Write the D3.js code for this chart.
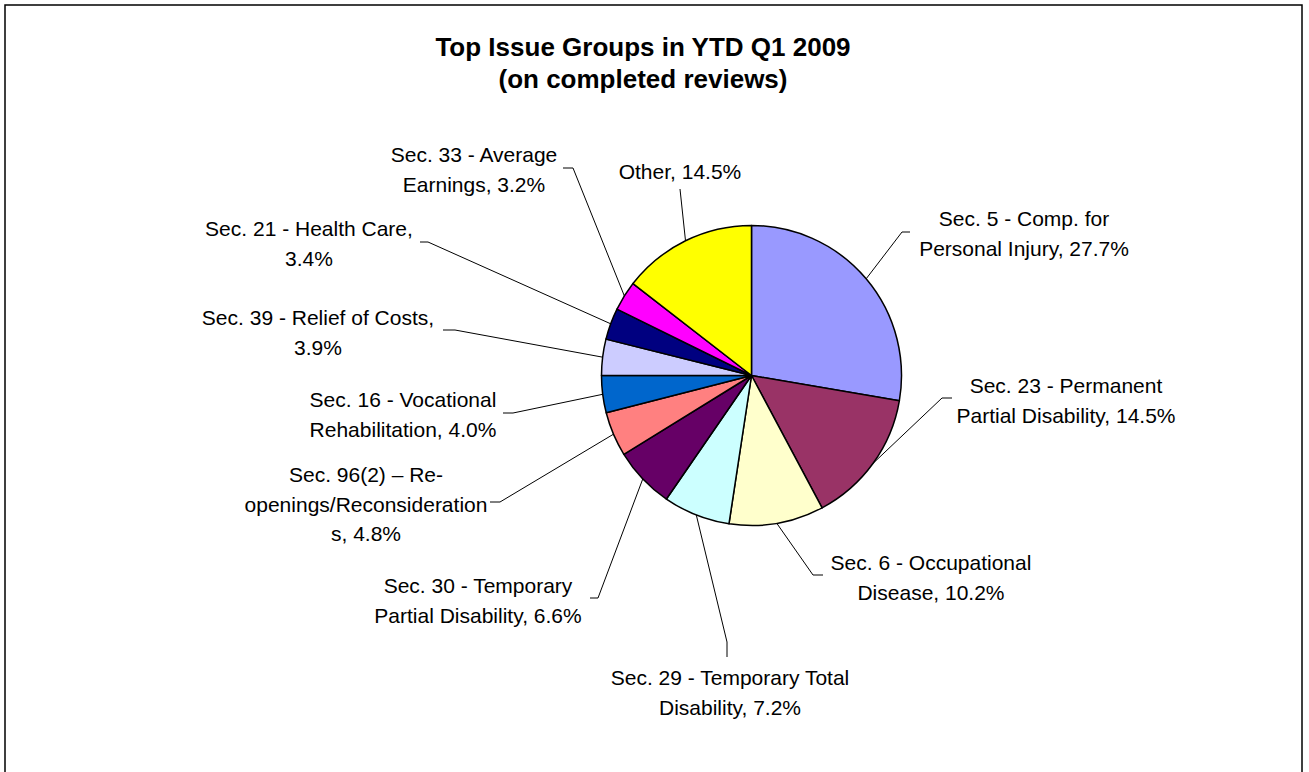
<!DOCTYPE html>
<html>
<head>
<meta charset="utf-8">
<script src="https://cdn.jsdelivr.net/npm/d3@7"></script>
<style>
  body { margin: 0; background: #fff; }
  svg { display: block; }
  text { font-family: "Liberation Sans", Arial, sans-serif; fill: #000; }
</style>
</head>
<body>
<svg id="chart"></svg>
<script>
// data, clockwise from 12 o'clock
var categories = [
  'Sec. 5 - Comp. for Personal Injury',
  'Sec. 23 - Permanent Partial Disability',
  'Sec. 6 - Occupational Disease',
  'Sec. 29 - Temporary Total Disability',
  'Sec. 30 - Temporary Partial Disability',
  'Sec. 96(2) \u2013 Re-openings/Reconsiderations',
  'Sec. 16 - Vocational Rehabilitation',
  'Sec. 39 - Relief of Costs',
  'Sec. 21 - Health Care',
  'Sec. 33 - Average Earnings',
  'Other'
];
var values = [27.7, 14.5, 10.2, 7.2, 6.6, 4.8, 4.0, 3.9, 3.4, 3.2, 14.5];

// label text as wrapped in the original
var labelLines = [
  ['Sec. 5 - Comp. for', 'Personal Injury, 27.7%'],
  ['Sec. 23 - Permanent', 'Partial Disability, 14.5%'],
  ['Sec. 6 - Occupational', 'Disease, 10.2%'],
  ['Sec. 29 - Temporary Total', 'Disability, 7.2%'],
  ['Sec. 30 - Temporary', 'Partial Disability, 6.6%'],
  ['Sec. 96(2) \u2013 Re-', 'openings/Reconsideration', 's, 4.8%'],
  ['Sec. 16 - Vocational', 'Rehabilitation, 4.0%'],
  ['Sec. 39 - Relief of Costs,', '3.9%'],
  ['Sec. 21 - Health Care,', '3.4%'],
  ['Sec. 33 - Average', 'Earnings, 3.2%'],
  ['Other, 14.5%']
];

var titleLines = ['Top Issue Groups in YTD Q1 2009', '(on completed reviews)'];

var colors = ['#9999FF', '#993366', '#FFFFCC', '#CCFFFF', '#660066', '#FF8080',
              '#0066CC', '#CCCCFF', '#000080', '#FF00FF', '#FFFF00'];

// where each data label sits (text centre x, first baseline) and its leader elbow/end
var labelLayout = [
  {x: 1024, y: 226, elbow: [902, 232], end: [910, 232]},
  {x: 1066, y: 393, elbow: [942, 398], end: [952, 398]},
  {x: 931,  y: 570, elbow: [813, 575], end: [823, 575]},
  {x: 730,  y: 685, elbow: [727, 642], end: [727, 657]},
  {x: 478,  y: 593, elbow: [598, 598], end: [590, 598]},
  {x: 366,  y: 482, elbow: [500, 502], end: [490, 502]},
  {x: 403,  y: 407, elbow: [513, 413], end: [503, 413]},
  {x: 318,  y: 325, elbow: [455, 330], end: [443, 330]},
  {x: 309,  y: 236, elbow: [428, 242], end: [420, 242]},
  {x: 474,  y: 162, elbow: [573, 168], end: [563, 168]},
  {x: 680,  y: 179, elbow: [680, 189], end: [680, 189]}
];

var W = 1309, H = 772;
var cx = 751.5, cy = 375.5, radius = 150;
var lineGap = 29.5;

var svg = d3.select('#chart').attr('width', W).attr('height', H);

// chart frame (open at the bottom edge of the window)
svg.append('rect')
  .attr('x', 5).attr('y', 5)
  .attr('width', 1297).attr('height', 800)
  .style('fill', 'none')
  .style('stroke', '#000')
  .style('stroke-width', '1.5px');

svg.append('text')
  .attr('text-anchor', 'middle')
  .style('font-size', '26px')
  .style('font-weight', 'bold')
  .selectAll('tspan')
  .data(titleLines)
  .enter()
  .append('tspan')
  .attr('x', 643)
  .attr('y', (d, i) => 56 + i * 32)
  .text(d => d);

var pie = d3.pie().sort(null).value(d => d);
var arcs = pie(values);
var arc = d3.arc().innerRadius(0).outerRadius(radius);
var edge = d3.arc().innerRadius(radius).outerRadius(radius);

var g = svg.append('g').attr('transform', `translate(${cx}, ${cy})`);

g.selectAll('path.slice')
  .data(arcs)
  .enter()
  .append('path')
  .attr('class', 'slice')
  .attr('d', arc)
  .style('fill', (d, i) => colors[i])
  .style('stroke', '#000')
  .style('stroke-width', '1.5px')
  .style('stroke-linejoin', 'round');

// leader lines
svg.selectAll('polyline.leader')
  .data(arcs)
  .enter()
  .append('polyline')
  .attr('class', 'leader')
  .attr('points', (d, i) => {
    var c = edge.centroid(d);
    var L = labelLayout[i];
    return [[cx + c[0], cy + c[1]], L.elbow, L.end].map(p => p.join(',')).join(' ');
  })
  .style('fill', 'none')
  .style('stroke', '#000')
  .style('stroke-width', '1px');

// data labels
svg.selectAll('text.label')
  .data(arcs)
  .enter()
  .append('text')
  .attr('class', 'label')
  .attr('text-anchor', 'middle')
  .style('font-size', '21px')
  .each(function(d, i) {
    var L = labelLayout[i];
    d3.select(this).selectAll('tspan')
      .data(labelLines[i])
      .enter()
      .append('tspan')
      .attr('x', L.x)
      .attr('y', (t, k) => L.y + k * lineGap)
      .text(t => t);
  });
</script>
</body>
</html>
